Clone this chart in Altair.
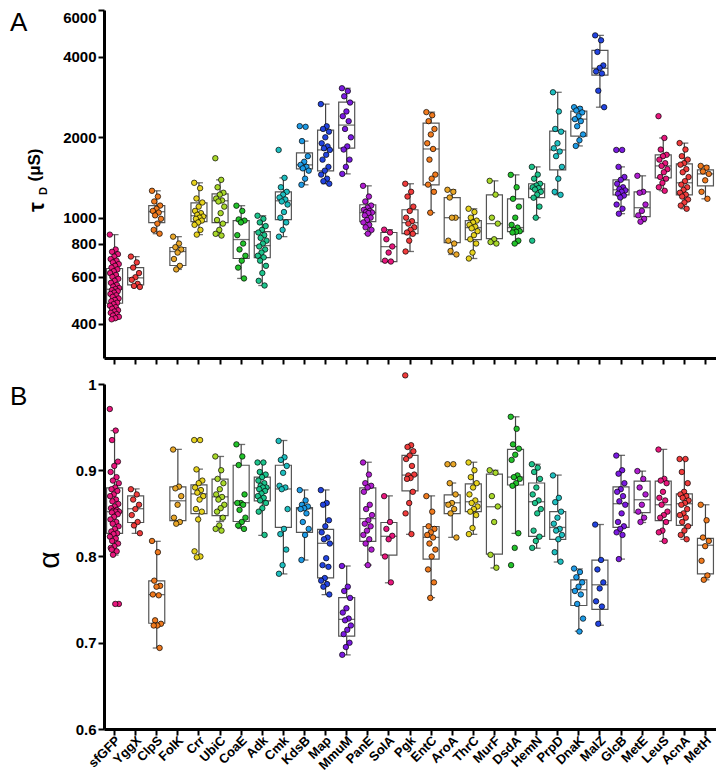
import altair as alt
import pandas as pd

CATEGORIES = ["sfGFP", "YggX", "ClpS", "FolK", "Crr", "UbiC", "CoaE", "Adk", "Cmk", "KdsB",
              "Map", "MmuM", "PanE", "SolA", "Pgk", "EntC", "AroA", "ThrC", "MurF", "DsdA",
              "HemN", "PrpD", "DnaK", "MalZ", "GlcB", "MetE", "LeuS", "AcnA", "MetH"]

PINK, RED, ORANGE, AMBER, YELLOW = "#E8177D", "#F03C3C", "#F07A1E", "#E8A628", "#E6D21E"
YGREEN, GREEN, TEAL, CYAN = "#A8D82A", "#22C22A", "#1DC48C", "#1EBFC0"
LBLUE, BLUE, PURPLE, VIOLET = "#1E9BE6", "#2244E0", "#7A1AE0", "#B01ED0"
COLORS = [PINK, RED, ORANGE, AMBER, YELLOW, YGREEN, GREEN, TEAL, CYAN, LBLUE, BLUE, PURPLE, VIOLET,
          PINK, RED, ORANGE, AMBER, YELLOW, YGREEN, GREEN, TEAL, CYAN, LBLUE, BLUE, PURPLE, VIOLET,
          PINK, RED, ORANGE]

# ---- Panel A: tau_D (us) box statistics ----
TAU_LO = [416, 550, 871, 640, 864, 857, 592, 557, 849, 1328, 1340, 1459, 871, 685, 747, 1044, 728, 703,
          800, 800, 1000, 1218, 1857, 2594, 1035, 966, 1261, 1080, 1177]
TAU_Q1 = [478, 560, 958, 662, 966, 958, 703, 709, 983, 1524, 1497, 1823, 966, 685, 871, 1328, 807, 828,
          835, 887, 1188, 1511, 2022, 3421, 1218, 1009, 1410, 1218, 1316]
TAU_MED = [539, 595, 1053, 747, 1017, 1157, 828, 786, 1157, 1577, 1794, 2223, 1044, 779, 958, 1809, 1000,
           918, 950, 918, 1283, 1794, 2340, 3630, 1272, 1090, 1563, 1351, 1459]
TAU_Q3 = [645, 650, 1109, 773, 1137, 1229, 975, 887, 1250, 1748, 2128, 2710, 1118, 880, 1071, 2262, 1188,
          975, 1218, 1177, 1340, 2111, 2509, 4234, 1386, 1250, 1718, 1591, 1511]
TAU_HI = [864, 715, 1261, 849, 1351, 1386, 1109, 1017, 1410, 1936, 2664, 3055, 1316, 902, 1340, 2486, 1272,
          1080, 1374, 1447, 1550, 2950, 2594, 4820, 1550, 1435, 1989, 1903, 1563]
TAU_POINTS = [
    [864, 760, 745, 730, 715, 700, 690, 680, 670, 660, 650, 640, 630, 620, 610, 600, 590, 580, 570, 560,
     552, 545, 540, 535, 530, 524, 518, 512, 505, 498, 492, 486, 480, 474, 468, 462, 456, 450, 445, 440,
     435, 430, 425, 420, 416],
    [715, 680, 650, 620, 598, 585, 565, 555, 550],
    [1261, 1200, 1150, 1110, 1080, 1060, 1045, 1020, 990, 950, 900, 871],
    [849, 800, 775, 760, 740, 700, 660, 640],
    [1351, 1290, 1180, 1140, 1100, 1060, 1040, 1025, 1010, 1000, 990, 975, 960, 940, 900, 864],
    [1670, 1386, 1300, 1240, 1220, 1180, 1160, 1150, 1100, 1040, 980, 950, 900, 870, 857],
    [1109, 1060, 985, 975, 960, 860, 800, 760, 720, 690, 650, 592],
    [1017, 990, 960, 930, 900, 880, 860, 840, 820, 800, 780, 760, 740, 720, 710, 690, 660, 620, 580, 557],
    [1794, 1410, 1300, 1250, 1220, 1190, 1170, 1150, 1120, 1050, 1000, 960, 900, 849],
    [2203, 2190, 1936, 1700, 1620, 1577, 1550, 1530, 1500, 1400, 1328],
    [2664, 2200, 2150, 2100, 2000, 1900, 1850, 1820, 1794, 1720, 1650, 1550, 1500, 1450, 1400, 1370, 1340],
    [3055, 2980, 2850, 2700, 2500, 2400, 2300, 2150, 2000, 1850, 1800, 1650, 1550, 1459],
    [1316, 1200, 1150, 1110, 1090, 1070, 1060, 1050, 1045, 1040, 1020, 1000, 980, 960, 940, 920, 900, 871],
    [902, 880, 830, 780, 740, 690, 685],
    [1340, 1250, 1200, 1100, 1060, 1000, 970, 950, 920, 900, 880, 870, 820, 747],
    [2486, 2420, 2300, 2150, 2050, 1900, 1809, 1650, 1450, 1400, 1330, 1250, 1044],
    [1272, 1250, 1190, 1000, 1000, 820, 800, 750, 728],
    [1080, 1050, 1000, 975, 960, 940, 925, 912, 890, 860, 830, 800, 740, 703],
    [1374, 1220, 1000, 950, 830, 810, 800],
    [1447, 1300, 1177, 1100, 1000, 940, 918, 900, 890, 885, 880, 820, 800],
    [1550, 1450, 1400, 1340, 1320, 1300, 1290, 1275, 1250, 1220, 1188, 1100, 1000, 820],
    [2950, 2500, 2150, 2100, 1900, 1820, 1770, 1700, 1550, 1400, 1250, 1218],
    [2594, 2560, 2520, 2480, 2400, 2340, 2300, 2200, 2050, 1950, 1857],
    [4820, 4620, 4180, 3720, 3640, 3530, 3470, 2990, 2594],
    [1794, 1794, 1550, 1420, 1386, 1340, 1300, 1280, 1265, 1250, 1230, 1210, 1190, 1120, 1080, 1035],
    [1435, 1250, 1240, 1120, 1060, 1020, 990, 966],
    [2401, 1989, 1800, 1720, 1700, 1650, 1600, 1563, 1520, 1480, 1420, 1400, 1350, 1300, 1261],
    [1903, 1800, 1700, 1650, 1600, 1580, 1520, 1480, 1420, 1370, 1330, 1300, 1270, 1240, 1220, 1200, 1170,
     1140, 1110, 1080],
    [1563, 1540, 1490, 1459, 1380, 1250, 1177],
]

# ---- Panel B: alpha box statistics ----
AL_LO = [0.8016, 0.8268, 0.6939, 0.8383, 0.7993, 0.8406, 0.8325, 0.8245, 0.7798, 0.7959, 0.7558, 0.6859,
         0.7901, 0.7695, 0.8257, 0.7523, 0.8222, 0.8257, 0.7867, 0.8268, 0.8096, 0.7936, 0.7134, 0.7203,
         0.797, 0.8394, 0.8176, 0.8199, 0.773]
AL_Q1 = [0.8268, 0.8394, 0.7226, 0.8417, 0.8497, 0.8474, 0.8406, 0.8646, 0.8337, 0.828, 0.7753, 0.7077,
         0.8176, 0.8016, 0.8761, 0.797, 0.8497, 0.852, 0.8027, 0.8829, 0.8234, 0.8199, 0.7432, 0.7386,
         0.8337, 0.8509, 0.8417, 0.836, 0.7798]
AL_MED = [0.852, 0.8554, 0.7558, 0.8646, 0.8726, 0.8692, 0.8623, 0.8795, 0.8783, 0.8554, 0.8153, 0.7271,
          0.844, 0.8234, 0.8944, 0.8222, 0.8623, 0.8635, 0.8577, 0.8921, 0.8635, 0.8337, 0.7615, 0.7672,
          0.8612, 0.8658, 0.86, 0.8612, 0.8131]
AL_Q3 = [0.8795, 0.8703, 0.7718, 0.8807, 0.883, 0.8898, 0.9058, 0.8921, 0.9058, 0.8566, 0.8314, 0.7523,
         0.8795, 0.8394, 0.9173, 0.8348, 0.8715, 0.8841, 0.8955, 0.9242, 0.8852, 0.852, 0.773, 0.7959,
         0.8807, 0.8875, 0.8875, 0.8726, 0.8211]
AL_HI = [0.946, 0.8783, 0.8176, 0.9242, 0.9013, 0.916, 0.9299, 0.9093, 0.9345, 0.8772, 0.8772, 0.789,
         0.9093, 0.8703, 0.9288, 0.8703, 0.8852, 0.9093, 0.9, 0.962, 0.907, 0.8944, 0.7856, 0.8371,
         0.9173, 0.899, 0.9242, 0.9127, 0.86]
AL_POINTS = [
    [0.971, 0.946, 0.935, 0.910, 0.905, 0.898, 0.892, 0.888, 0.885, 0.880, 0.878, 0.876, 0.872, 0.870,
     0.866, 0.864, 0.861, 0.858, 0.856, 0.854, 0.853, 0.852, 0.852, 0.851, 0.849, 0.846, 0.843, 0.840,
     0.838, 0.835, 0.832, 0.829, 0.827, 0.826, 0.823, 0.821, 0.818, 0.815, 0.812, 0.810, 0.806, 0.802,
     0.745, 0.745, 0.808],
    [0.878, 0.872, 0.866, 0.860, 0.855, 0.848, 0.840, 0.836, 0.827],
    [0.818, 0.805, 0.772, 0.766, 0.765, 0.756, 0.755, 0.726, 0.722, 0.720, 0.720, 0.694],
    [0.924, 0.881, 0.879, 0.870, 0.860, 0.845, 0.840, 0.838],
    [0.935, 0.935, 0.901, 0.888, 0.885, 0.880, 0.877, 0.874, 0.870, 0.866, 0.855, 0.852, 0.843, 0.806,
     0.800, 0.799],
    [0.916, 0.900, 0.890, 0.885, 0.878, 0.872, 0.869, 0.866, 0.860, 0.856, 0.852, 0.845, 0.836, 0.832, 0.830],
    [0.930, 0.916, 0.906, 0.872, 0.862, 0.862, 0.860, 0.854, 0.845, 0.840, 0.836, 0.832],
    [0.909, 0.909, 0.898, 0.895, 0.892, 0.888, 0.885, 0.882, 0.880, 0.880, 0.878, 0.876, 0.873, 0.870,
     0.868, 0.865, 0.862, 0.856, 0.852, 0.825],
    [0.934, 0.915, 0.912, 0.905, 0.897, 0.882, 0.880, 0.878, 0.855, 0.832, 0.826, 0.808, 0.790, 0.780],
    [0.877, 0.865, 0.860, 0.858, 0.856, 0.855, 0.850, 0.840, 0.832, 0.825, 0.796],
    [0.877, 0.862, 0.860, 0.842, 0.835, 0.828, 0.822, 0.820, 0.815, 0.798, 0.790, 0.788, 0.775, 0.772,
     0.768, 0.765, 0.756],
    [0.789, 0.765, 0.760, 0.752, 0.740, 0.735, 0.728, 0.726, 0.720, 0.715, 0.710, 0.700, 0.695, 0.686],
    [0.909, 0.895, 0.885, 0.882, 0.880, 0.875, 0.860, 0.855, 0.848, 0.842, 0.838, 0.835, 0.830, 0.825,
     0.820, 0.815, 0.808, 0.790],
    [0.870, 0.840, 0.832, 0.824, 0.820, 0.800, 0.770],
    [1.010, 0.929, 0.927, 0.922, 0.917, 0.913, 0.905, 0.894, 0.895, 0.891, 0.890, 0.875, 0.862, 0.850, 0.826],
    [0.870, 0.852, 0.835, 0.832, 0.828, 0.825, 0.822, 0.815, 0.808, 0.800, 0.785, 0.770, 0.752],
    [0.907, 0.907, 0.885, 0.872, 0.862, 0.860, 0.855, 0.850, 0.822],
    [0.909, 0.900, 0.892, 0.885, 0.880, 0.872, 0.865, 0.862, 0.858, 0.855, 0.852, 0.848, 0.833, 0.826],
    [0.900, 0.897, 0.870, 0.858, 0.840, 0.802, 0.787],
    [0.962, 0.948, 0.930, 0.925, 0.918, 0.912, 0.894, 0.892, 0.890, 0.885, 0.882, 0.827, 0.810, 0.790],
    [0.907, 0.903, 0.898, 0.890, 0.880, 0.872, 0.865, 0.862, 0.855, 0.850, 0.830, 0.823, 0.818, 0.810],
    [0.894, 0.868, 0.863, 0.852, 0.845, 0.838, 0.832, 0.830, 0.825, 0.820, 0.805, 0.794],
    [0.786, 0.782, 0.776, 0.770, 0.765, 0.760, 0.756, 0.745, 0.728, 0.713],
    [0.837, 0.796, 0.785, 0.770, 0.763, 0.748, 0.742, 0.722],
    [0.917, 0.900, 0.896, 0.885, 0.878, 0.875, 0.870, 0.864, 0.860, 0.850, 0.840, 0.835, 0.832, 0.828,
     0.825, 0.797],
    [0.899, 0.890, 0.880, 0.872, 0.860, 0.852, 0.845, 0.840],
    [0.924, 0.890, 0.888, 0.885, 0.875, 0.868, 0.865, 0.860, 0.852, 0.848, 0.845, 0.840, 0.830, 0.828, 0.818],
    [0.913, 0.913, 0.898, 0.885, 0.875, 0.872, 0.870, 0.868, 0.865, 0.862, 0.860, 0.855, 0.850, 0.848,
     0.845, 0.840, 0.835, 0.830, 0.825, 0.820],
    [0.860, 0.842, 0.822, 0.818, 0.812, 0.795, 0.778, 0.773],
]

FONT = "Liberation Sans"
W = 612


def box_frame(lo, q1, med, q3, hi):
    return pd.DataFrame({"cat": CATEGORIES, "lo": lo, "q1": q1, "med": med, "q3": q3, "hi": hi})


def point_frame(points):
    rows = []
    for cat, vals in zip(CATEGORIES, points):
        for i, v in enumerate(vals):
            rows.append({"cat": cat, "v": v, "jit": ((i * 0.618034) % 1.0 - 0.5) * 0.9})
    return pd.DataFrame(rows)


def axis_common(**kw):
    return alt.Axis(domainColor="black", domainWidth=3, tickColor="black", tickWidth=2, tickSize=6,
                    labelFont=FONT, labelFontWeight="bold", labelColor="black", grid=False, **kw)


X_AXIS = axis_common(labels=False)


def panel(box, pts, yscale, yaxis, height, letter, extra_text, cat_labels):
    x = alt.X("cat:N", sort=CATEGORIES, title=None,
              scale=alt.Scale(domain=CATEGORIES, paddingInner=0, paddingOuter=0), axis=X_AXIS)
    base = alt.Chart(box)
    whisk = base.mark_rule(color="#444", strokeWidth=1.2).encode(
        x=x, y=alt.Y("lo:Q", scale=yscale, axis=yaxis, title=None), y2="hi:Q")
    rect = base.mark_bar(size=16, fill="white", stroke="#555", strokeWidth=1.2).encode(
        x=x, y=alt.Y("q1:Q", scale=yscale, axis=yaxis, title=None), y2="q3:Q")
    med = base.mark_tick(size=16, thickness=1.3, color="#333").encode(
        x=x, y=alt.Y("med:Q", scale=yscale, axis=yaxis, title=None))
    cap_lo = base.mark_tick(size=8, thickness=1.3, color="#333").encode(
        x=x, y=alt.Y("lo:Q", scale=yscale, axis=yaxis, title=None))
    cap_hi = base.mark_tick(size=8, thickness=1.3, color="#333").encode(
        x=x, y=alt.Y("hi:Q", scale=yscale, axis=yaxis, title=None))
    dots = alt.Chart(pts).mark_circle(size=30, opacity=1, stroke="black", strokeWidth=0.7).encode(
        x=x,
        xOffset=alt.XOffset("jit:Q", scale=alt.Scale(domain=[-1, 1])),
        y=alt.Y("v:Q", scale=yscale, axis=yaxis, title=None),
        color=alt.Color("cat:N", scale=alt.Scale(domain=CATEGORIES, range=COLORS), legend=None),
    )
    letter_mark = alt.Chart(pd.DataFrame({"t": [letter]})).mark_text(
        font=FONT, fontSize=26, align="left", baseline="top", color="black").encode(
        x=alt.value(-94), y=alt.value(0), text="t:N")
    layers = [whisk, rect, med, cap_lo, cap_hi, dots, letter_mark] + extra_text
    if cat_labels:
        labels = alt.Chart(pd.DataFrame({"cat": CATEGORIES})).mark_text(
            font=FONT, fontSize=13, fontWeight="bold", angle=315, align="right", baseline="middle",
            color="black", dx=5).encode(x=x, y=alt.value(height + 13), text="cat:N")
        layers.append(labels)
    return alt.layer(*layers).properties(width=W, height=height)


H_TOP = 348
H_BOT = 345

tau_scale = alt.Scale(type="log", domain=[298, 6000], nice=False)
tau_axis = axis_common(values=[400, 600, 800, 1000, 2000, 4000, 6000], format="d", labelFontSize=15,
                       labelPadding=2, labelFlush=True)

title_top = [
    alt.Chart(pd.DataFrame({"t": ["τ"]})).mark_text(
        font=FONT, fontSize=22, fontWeight="bold", angle=270, align="center", baseline="middle",
        color="black").encode(x=alt.value(-67), y=alt.value(197), text="t:N"),
    alt.Chart(pd.DataFrame({"t": ["D"]})).mark_text(
        font=FONT, fontSize=11, fontWeight="bold", angle=270, align="center", baseline="middle",
        color="black").encode(x=alt.value(-60), y=alt.value(181), text="t:N"),
    alt.Chart(pd.DataFrame({"t": ["(μS)"]})).mark_text(
        font=FONT, fontSize=17, fontWeight="bold", angle=270, align="center", baseline="middle",
        color="black").encode(x=alt.value(-69), y=alt.value(155), text="t:N"),
]

al_scale = alt.Scale(domain=[0.6, 1.0], nice=False)
al_axis = axis_common(values=[0.6, 0.7, 0.8, 0.9, 1.0], format="~g", labelFontSize=15, labelPadding=2)

title_bot = [
    alt.Chart(pd.DataFrame({"t": ["α"]})).mark_text(
        font=FONT, fontSize=30, angle=270, align="center", baseline="middle",
        color="black").encode(x=alt.value(-54), y=alt.value(176), text="t:N"),
]

top = panel(box_frame(TAU_LO, TAU_Q1, TAU_MED, TAU_Q3, TAU_HI), point_frame(TAU_POINTS),
            tau_scale, tau_axis, H_TOP, "A", title_top, False)
bottom = panel(box_frame(AL_LO, AL_Q1, AL_MED, AL_Q3, AL_HI), point_frame(AL_POINTS),
               al_scale, al_axis, H_BOT, "B", title_bot, True)

chart = (alt.vconcat(top, bottom, spacing=6)
         .properties(padding={"left": 2, "top": 1, "right": 0, "bottom": 0})
         .configure_view(stroke=None))

chart.save("out.html", embed_options={"renderer": "svg", "actions": False})
